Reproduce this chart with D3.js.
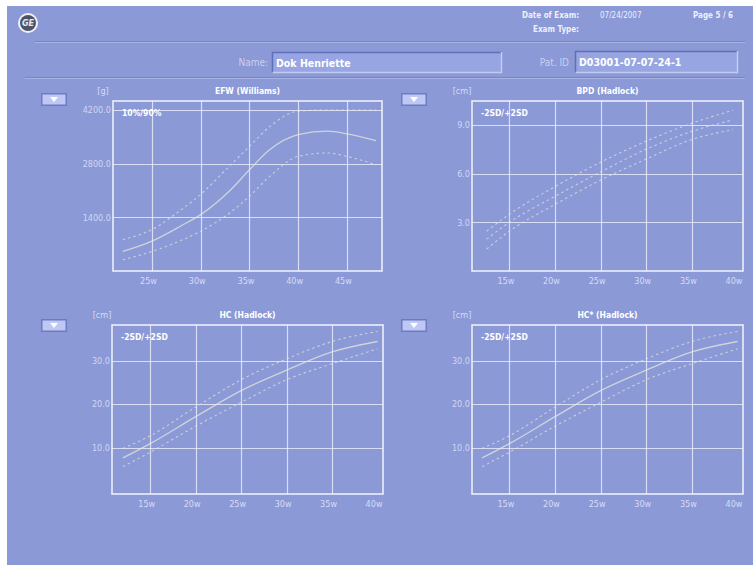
<!DOCTYPE html>
<html><head><meta charset="utf-8">
<script src="https://cdn.jsdelivr.net/npm/d3@7/dist/d3.min.js"></script>
<style>
html,body{margin:0;padding:0;background:#fff;}
svg{display:block;}
text{font-family:"DejaVu Sans Condensed","DejaVu Sans",Arial,sans-serif;}
</style></head>
<body><svg id="c" width="753" height="567"></svg>
<script>
// ---------- data ----------
const efwWeeks = [22, 25, 28, 30, 33, 35, 37, 40, 43, 45, 48];
const efwP50   = [510, 780, 1180, 1470, 2100, 2640, 3150, 3560, 3650, 3580, 3400];
const efwP90   = [820, 1080, 1600, 2000, 2750, 3250, 3750, 4170, 4200, 4200, 4200];
const efwP10   = [290, 510, 800, 1040, 1520, 1950, 2450, 2990, 3080, 2990, 2770];
const efwXTicks = [25, 30, 35, 40, 45];
const efwYTicks = [1400, 2800, 4200];

const bpdWeeks = [12.5, 15, 20, 25, 30, 35, 39.5];
const bpdMean  = [1.96, 3.0, 4.6, 6.1, 7.5, 8.6, 9.3];
const bpdPlus  = [2.45, 3.5, 5.2, 6.7, 8.0, 9.1, 9.9];
const bpdMinus = [1.35, 2.45, 4.1, 5.6, 6.9, 8.1, 8.7];
const bpdYTicks = [3, 6, 9];

const hcWeeks = [12, 15, 20, 25, 30, 35, 40];
const hcMean  = [7.6, 10.9, 17.1, 23.1, 27.8, 32.0, 34.4];
const hcPlus  = [9.8, 12.7, 19.3, 25.6, 30.4, 34.4, 36.7];
const hcMinus = [5.6, 8.9, 14.9, 20.4, 25.6, 29.3, 32.7];

const hcsWeeks = [12, 15, 20, 25, 30, 35, 40];
const hcsMean  = [7.6, 10.9, 17.1, 23.1, 27.8, 32.0, 34.4];
const hcsPlus  = [9.8, 12.7, 19.3, 25.6, 30.4, 34.4, 36.7];
const hcsMinus = [5.6, 8.9, 14.9, 20.4, 25.6, 29.3, 32.7];
const hcYTicks = [10, 20, 30];

const weekTicks = [15, 20, 25, 30, 35, 40];

// ---------- drawing ----------
const svg = d3.select("#c");
const BG = "#8b99d6";
svg.append("rect").attr("x",7).attr("y",6).attr("width",746).attr("height",559).attr("fill",BG);

// header lines
svg.append("line").attr("x1",35).attr("x2",745).attr("y1",41.5).attr("y2",41.5).attr("stroke","#7684c6").attr("stroke-width",1);
svg.append("line").attr("x1",35).attr("x2",745).attr("y1",42.5).attr("y2",42.5).attr("stroke","#a9b4e6").attr("stroke-width",1);
svg.append("line").attr("x1",25).attr("x2",745).attr("y1",77.5).attr("y2",77.5).attr("stroke","#7684c6").attr("stroke-width",1);
svg.append("line").attr("x1",25).attr("x2",745).attr("y1",78.5).attr("y2",78.5).attr("stroke","#a9b4e6").attr("stroke-width",1);

// GE logo
const logo = svg.append("g").attr("transform","translate(28,23)");
logo.append("circle").attr("r",10).attr("fill","#f2f2f6");
logo.append("circle").attr("r",8).attr("fill","#4d546a");
logo.append("text").attr("text-anchor","middle").attr("dy","0.35em").attr("fill","#e8e8f0")
  .attr("font-size",9).attr("font-style","italic").attr("font-weight","bold").text("GE");

// header texts
const hdr = (x,y,t,opts={}) => svg.append("text").attr("x",x).attr("y",y).attr("fill",opts.fill||"#eef0fb")
  .attr("font-size",opts.size||8).attr("font-weight",opts.weight||"bold").attr("text-anchor",opts.anchor||"start")
  .attr("dominant-baseline","middle").text(t);
hdr(522,15,"Date of Exam:");
hdr(600,15,"07/24/2007",{weight:"normal"});
hdr(693,15,"Page  5 / 6");
hdr(533,29,"Exam Type:");

// name/id boxes
function box(x,y,w,h,txt){
  svg.append("rect").attr("x",x).attr("y",y).attr("width",w).attr("height",h).attr("fill","#97a5e2");
  svg.append("path").attr("d",`M${x+0.5},${y+h}V${y+0.5}H${x+w}`).attr("stroke","#5f6fb8").attr("stroke-width",1.5).attr("fill","none");
  svg.append("path").attr("d",`M${x+0.5},${y+h-0.5}H${x+w-0.5}V${y}`).attr("stroke","#c3cbf2").attr("stroke-width",1.5).attr("fill","none");
  svg.append("text").attr("x",x+4).attr("y",y+h/2+1).attr("dominant-baseline","middle").attr("fill","#ffffff")
    .attr("font-size",10.5).attr("font-weight","bold").text(txt);
}
hdr(268,63,"Name:",{anchor:"end",weight:"normal",size:10,fill:"#c9d0f2"});
box(272,52,230,21,"Dok Henriette");
hdr(569,63,"Pat. ID",{anchor:"end",weight:"normal",size:10,fill:"#c9d0f2"});
box(575,51,163,22,"D03001-07-07-24-1");

// dropdown buttons
function button(x,y){
  svg.append("rect").attr("x",x).attr("y",y).attr("width",26).attr("height",13).attr("fill","#6c7bc2");
  svg.append("rect").attr("x",x+1.5).attr("y",y+1.5).attr("width",23).attr("height",10).attr("fill","#bfc7f4");
  svg.append("path").attr("d",`M${x+9},${y+4}L${x+17},${y+4}L${x+13},${y+9}Z`).attr("fill","#ffffff");
}
button(41,93); button(401,93); button(41,319); button(401,319);

const lineColor = "#e6e8dc";
function panel(cfg){
  const x = d3.scaleLinear().domain(cfg.xd).range([cfg.l, cfg.r]);
  const y = d3.scaleLinear().domain(cfg.yd).range([cfg.b, cfg.t]);
  const g = svg.append("g");
  // grid
  g.selectAll(".vg").data(cfg.xTicks.filter(d => x(d) < cfg.r - 8)).join("line")
    .attr("x1",d=>Math.round(x(d))+0.5).attr("x2",d=>Math.round(x(d))+0.5).attr("y1",cfg.t).attr("y2",cfg.b)
    .attr("stroke","#f4f6ff").attr("stroke-opacity",0.75).attr("stroke-width",1.2);
  g.selectAll(".hg").data(cfg.yTicks).join("line")
    .attr("x1",cfg.l).attr("x2",cfg.r).attr("y1",d=>Math.round(y(d))+0.5).attr("y2",d=>Math.round(y(d))+0.5)
    .attr("stroke","#f4f6ff").attr("stroke-opacity",0.75).attr("stroke-width",1.2);
  // frame
  g.append("rect").attr("x",cfg.l).attr("y",cfg.t).attr("width",cfg.r-cfg.l).attr("height",cfg.b-cfg.t)
    .attr("fill","none").attr("stroke","#f6f7ff").attr("stroke-opacity",0.9).attr("stroke-width",1.6);
  // axes (labels only)
  const xa = d3.axisBottom(x).tickValues(cfg.xTicks).tickSize(0).tickPadding(0).tickFormat(d=>d+"w");
  const xg = g.append("g").attr("transform",`translate(-4,${cfg.b+10})`).call(xa);
  xg.select(".domain").remove();
  xg.selectAll("text").attr("fill","#d6dcf7").attr("font-size",9).attr("dy","0.35em")
    .attr("font-family","'DejaVu Sans Condensed',sans-serif");
  const ya = d3.axisLeft(y).tickValues(cfg.yTicks).tickSize(0).tickPadding(2).tickFormat(d3.format(".1f"));
  const yg = g.append("g").attr("transform",`translate(${cfg.l},0)`).call(ya);
  yg.select(".domain").remove();
  yg.selectAll("text").attr("fill","#d0d7f5").attr("font-size",9)
    .attr("font-family","'DejaVu Sans Condensed',sans-serif");
  // curves
  const ln = d3.line().curve(d3.curveMonotoneX).x(d=>x(d[0])).y(d=>y(d[1]));
  cfg.series.forEach(s => {
    g.append("path").datum(cfg.weeks.map((w,i)=>[w,s.v[i]])).attr("d",ln).attr("fill","none")
      .attr("stroke",lineColor).attr("stroke-opacity",s.dash?0.7:0.75).attr("stroke-width",s.dash?1.1:1.3)
      .attr("stroke-dasharray",s.dash?"2.5,3":null);
  });
  // title, unit, legend
  g.append("text").attr("x",(cfg.l+cfg.r)/2).attr("y",cfg.t-10).attr("text-anchor","middle").attr("dominant-baseline","middle")
    .attr("fill","#ffffff").attr("font-size",8.5).attr("font-weight","bold").text(cfg.title);
  g.append("text").attr("x",cfg.l-10).attr("y",cfg.t-10).attr("text-anchor","middle").attr("dominant-baseline","middle")
    .attr("fill","#d6dcf7").attr("font-size",9).text(cfg.unit);
  g.append("text").attr("x",cfg.l+9).attr("y",cfg.t+12).attr("dominant-baseline","middle")
    .attr("fill","#ffffff").attr("font-size",8.5).attr("font-weight","bold").text(cfg.legend);
}

panel({l:113,r:382,t:101,b:271, xd:[21.0,48.6], yd:[0,4435], xTicks:efwXTicks, yTicks:efwYTicks,
  weeks:efwWeeks, series:[{v:efwP90,dash:true},{v:efwP50,dash:false},{v:efwP10,dash:true}],
  title:"EFW (Williams)", unit:"[g]", legend:"10%/90%"});
panel({l:472,r:743,t:101,b:271, xd:[10.9,40.6], yd:[0,10.47], xTicks:weekTicks, yTicks:bpdYTicks,
  weeks:bpdWeeks, series:[{v:bpdPlus,dash:true},{v:bpdMean,dash:true},{v:bpdMinus,dash:true}],
  title:"BPD (Hadlock)", unit:"[cm]", legend:"-2SD/+2SD"});
panel({l:112,r:383,t:325,b:494, xd:[10.8,40.6], yd:[-0.7,38.2], xTicks:weekTicks, yTicks:hcYTicks,
  weeks:hcWeeks, series:[{v:hcPlus,dash:true},{v:hcMean,dash:false},{v:hcMinus,dash:true}],
  title:"HC (Hadlock)", unit:"[cm]", legend:"-2SD/+2SD"});
panel({l:472,r:743,t:325,b:494, xd:[10.9,40.6], yd:[-0.7,38.2], xTicks:weekTicks, yTicks:hcYTicks,
  weeks:hcsWeeks, series:[{v:hcsPlus,dash:true},{v:hcsMean,dash:false},{v:hcsMinus,dash:true}],
  title:"HC* (Hadlock)", unit:"[cm]", legend:"-2SD/+2SD"});
</script></body></html>
